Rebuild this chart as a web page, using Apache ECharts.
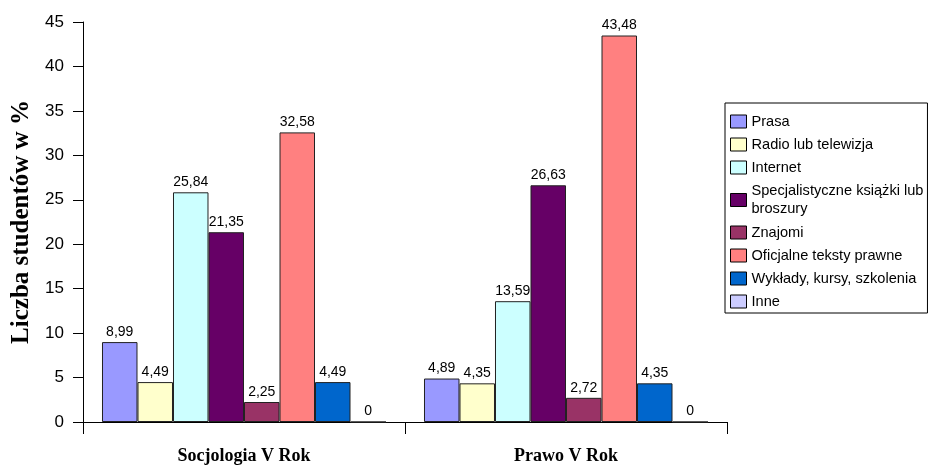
<!DOCTYPE html>
<html><head><meta charset="utf-8">
<script src="https://cdn.jsdelivr.net/npm/echarts@6/dist/echarts.min.js"></script>
<style>html,body{margin:0;padding:0;background:#fff}#c{width:934px;height:465px}</style>
</head><body><div id="c"></div>
<script>
const categories = ['Socjologia V Rok', 'Prawo V Rok'];
const seriesNames = ['Prasa', 'Radio lub telewizja', 'Internet', 'Specjalistyczne książki lub\nbroszury', 'Znajomi', 'Oficjalne teksty prawne', 'Wykłady, kursy, szkolenia', 'Inne'];
const prasa = [8.99, 4.89];
const radio = [4.49, 4.35];
const internet = [25.84, 13.59];
const ksiazki = [21.35, 26.63];
const znajomi = [2.25, 2.72];
const oficjalne = [32.58, 43.48];
const wyklady = [4.49, 4.35];
const inne = [0, 0];
const yTicks = [0, 5, 10, 15, 20, 25, 30, 35, 40, 45];
const colors = ['#9999FF', '#FFFFCC', '#CCFFFF', '#660066', '#993366', '#FF8080', '#0066CC', '#CCCCFF'];
const values = [prasa, radio, internet, ksiazki, znajomi, oficjalne, wyklady, inne];

const chart = echarts.init(document.getElementById('c'));
chart.setOption({
  animation: false,
  grid: { left: 83, right: 207, top: 22, bottom: 42 },
  legend: {
    orient: 'vertical', left: 725, top: 103,
    padding: [10, 4, 3, 5], itemGap: 6, itemWidth: 16, itemHeight: 13,
    borderColor: '#000', borderWidth: 1, backgroundColor: '#fff',
    icon: 'rect',
    textStyle: { fontFamily: 'Liberation Sans, Arial', fontSize: 14.6, color: '#000', lineHeight: 17 },
    itemStyle: { borderColor: '#000', borderWidth: 1 },
    data: seriesNames.map(n => n.indexOf('\n') >= 0 ? { name: n, textStyle: { lineHeight: 18 } } : { name: n })
  },
  xAxis: {
    type: 'category', data: categories,
    axisLine: { lineStyle: { color: '#000', width: 1 } },
    axisTick: { show: true, length: 12, lineStyle: { color: '#000' } },
    axisLabel: { margin: 25, fontFamily: 'Liberation Serif, Times New Roman', fontWeight: 'bold', fontSize: 18, color: '#000' }
  },
  yAxis: {
    type: 'value', min: yTicks[0], max: yTicks[yTicks.length - 1], interval: 5,
    name: 'Liczba studentów w %', nameLocation: 'middle', nameGap: 48,
    nameTextStyle: { fontFamily: 'Liberation Serif, Times New Roman', fontWeight: 'bold', fontSize: 25, color: '#000' },
    axisLine: { show: true, lineStyle: { color: '#000' } },
    axisTick: { show: true, length: 10, lineStyle: { color: '#000' } },
    splitLine: { show: false },
    axisLabel: { fontFamily: 'Liberation Sans, Arial', fontSize: 17, color: '#000', margin: 19 }
  },
  series: values.map((v, i) => ({
    name: seriesNames[i], type: 'bar', data: v,
    barGap: '0%', barCategoryGap: '11.8%',
    itemStyle: { color: colors[i], borderColor: '#222', borderWidth: 1 },
    label: {
      show: true, position: 'top', distance: 3,
      fontFamily: 'Liberation Sans, Arial', fontSize: 14, color: '#000',
      formatter: p => String(p.value).replace('.', ',')
    }
  }))
});
</script></body></html>
